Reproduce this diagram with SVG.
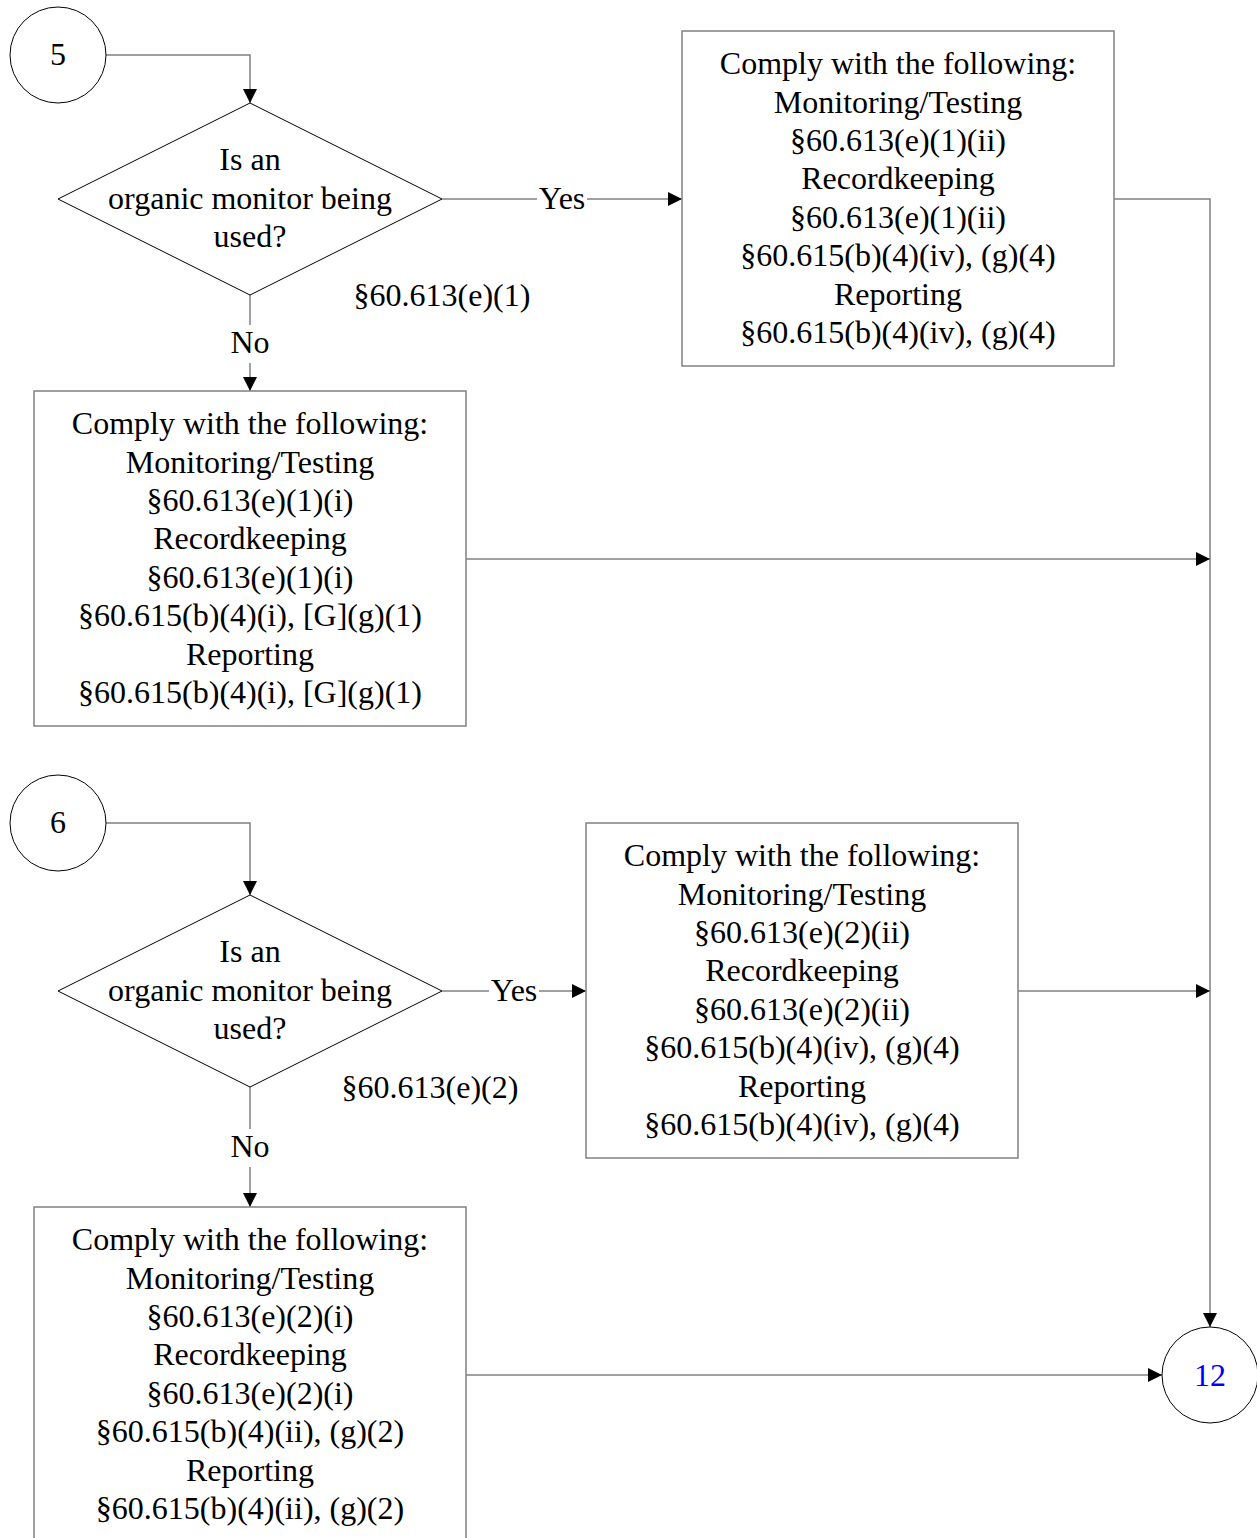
<svg xmlns="http://www.w3.org/2000/svg" width="1257" height="1538" viewBox="0 0 1257 1538">
<style>
text{font-family:"Liberation Serif","Times New Roman",serif;font-size:32px;fill:#000;text-anchor:middle}
.box{fill:#fff;stroke:#808080;stroke-width:1.5}
.shape{fill:#fff;stroke:#000;stroke-width:1}
.conn{fill:none;stroke:#808080;stroke-width:1.5}
.lbl{fill:#fff;stroke:none}
</style>
<defs>
<marker id="arr" viewBox="0 0 14 14" refX="14" refY="7" markerWidth="14" markerHeight="14" markerUnits="userSpaceOnUse" orient="auto">
<path d="M0,0 L14,7 L0,14 Z" fill="#000"/>
</marker>
</defs>
<g id="connectors">
<path class="conn" d="M106,55 H250 V103" marker-end="url(#arr)"/>
<path class="conn" d="M442,199 H682" marker-end="url(#arr)"/>
<path class="conn" d="M250,295 V391" marker-end="url(#arr)"/>
<path class="conn" d="M1114,199 H1210 V1327" marker-end="url(#arr)"/>
<path class="conn" d="M466,559 H1210" marker-end="url(#arr)"/>
<path class="conn" d="M106,823 H250 V895" marker-end="url(#arr)"/>
<path class="conn" d="M442,991 H586" marker-end="url(#arr)"/>
<path class="conn" d="M250,1087 V1207" marker-end="url(#arr)"/>
<path class="conn" d="M1018,991 H1210" marker-end="url(#arr)"/>
<path class="conn" d="M466,1375 H1162" marker-end="url(#arr)"/>
<rect class="lbl" x="537" y="184" width="50" height="30"/>
<text x="562" y="209">Yes</text>
<rect class="lbl" x="230" y="325" width="40" height="38"/>
<text x="250" y="353">No</text>
<rect class="lbl" x="489" y="976" width="50" height="30"/>
<text x="514" y="1001">Yes</text>
<rect class="lbl" x="230" y="1129" width="40" height="38"/>
<text x="250" y="1157">No</text>
</g>
<g id="c5">
<circle class="shape" cx="58" cy="55" r="48"/>
<text x="58" y="65">5</text>
</g>
<g id="d1">
<polygon class="shape" points="250,103 442,199 250,295 58,199"/>
<text x="250" y="170">Is an</text>
<text x="250" y="209">organic monitor being</text>
<text x="250" y="247">used?</text>
<text x="442" y="306">§60.613(e)(1)</text>
</g>
<g id="boxA">
<rect class="box" x="682" y="31" width="432" height="335"/>
<text x="898" y="74">Comply with the following:</text>
<text x="898" y="113">Monitoring/Testing</text>
<text x="898" y="151">§60.613(e)(1)(ii)</text>
<text x="898" y="189">Recordkeeping</text>
<text x="898" y="228">§60.613(e)(1)(ii)</text>
<text x="898" y="266">§60.615(b)(4)(iv), (g)(4)</text>
<text x="898" y="305">Reporting</text>
<text x="898" y="343">§60.615(b)(4)(iv), (g)(4)</text>
</g>
<g id="boxB">
<rect class="box" x="34" y="391" width="432" height="335"/>
<text x="250" y="434">Comply with the following:</text>
<text x="250" y="473">Monitoring/Testing</text>
<text x="250" y="511">§60.613(e)(1)(i)</text>
<text x="250" y="549">Recordkeeping</text>
<text x="250" y="588">§60.613(e)(1)(i)</text>
<text x="250" y="626">§60.615(b)(4)(i), [G](g)(1)</text>
<text x="250" y="665">Reporting</text>
<text x="250" y="703">§60.615(b)(4)(i), [G](g)(1)</text>
</g>
<g id="c6">
<circle class="shape" cx="58" cy="823" r="48"/>
<text x="58" y="833">6</text>
</g>
<g id="d2">
<polygon class="shape" points="250,895 442,991 250,1087 58,991"/>
<text x="250" y="962">Is an</text>
<text x="250" y="1001">organic monitor being</text>
<text x="250" y="1039">used?</text>
<text x="430" y="1098">§60.613(e)(2)</text>
</g>
<g id="boxC">
<rect class="box" x="586" y="823" width="432" height="335"/>
<text x="802" y="866">Comply with the following:</text>
<text x="802" y="905">Monitoring/Testing</text>
<text x="802" y="943">§60.613(e)(2)(ii)</text>
<text x="802" y="981">Recordkeeping</text>
<text x="802" y="1020">§60.613(e)(2)(ii)</text>
<text x="802" y="1058">§60.615(b)(4)(iv), (g)(4)</text>
<text x="802" y="1097">Reporting</text>
<text x="802" y="1135">§60.615(b)(4)(iv), (g)(4)</text>
</g>
<g id="boxD">
<rect class="box" x="34" y="1207" width="432" height="340"/>
<text x="250" y="1250">Comply with the following:</text>
<text x="250" y="1289">Monitoring/Testing</text>
<text x="250" y="1327">§60.613(e)(2)(i)</text>
<text x="250" y="1365">Recordkeeping</text>
<text x="250" y="1404">§60.613(e)(2)(i)</text>
<text x="250" y="1442">§60.615(b)(4)(ii), (g)(2)</text>
<text x="250" y="1481">Reporting</text>
<text x="250" y="1519">§60.615(b)(4)(ii), (g)(2)</text>
</g>
<g id="c12">
<circle class="shape" cx="1210" cy="1375" r="48"/>
<text x="1210" y="1386" style="fill:#0000ff">12</text>
</g>
</svg>
